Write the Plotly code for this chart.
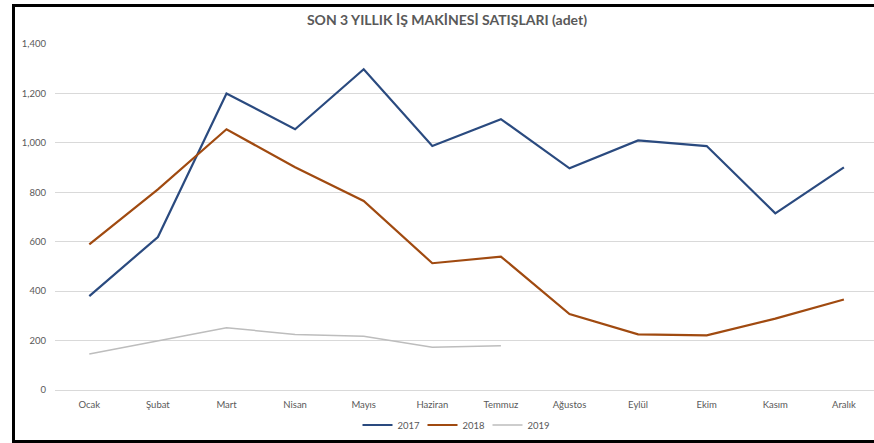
import plotly.graph_objects as go

months = ["Ocak", "Şubat", "Mart", "Nisan", "Mayıs", "Haziran", "Temmuz",
          "Ağustos", "Eylül", "Ekim", "Kasım", "Aralık"]
s2017 = [380, 619, 1200, 1055, 1298, 987, 1096, 897, 1010, 987, 715, 901]
s2018 = [589, 812, 1055, 901, 765, 513, 540, 307, 225, 221, 289, 366]
s2019 = [146, 198, 252, 225, 217, 173, 179]

W, H = 874, 443
L, R, T, B = 55, 0, 44, 53
pw, ph = W - L - R, H - T - B

def px(x):
    return (x - L) / pw

def py(y):
    return (H - B - y) / ph

fig = go.Figure()
fig.add_trace(go.Scatter(x=months, y=s2017, name="2017", mode="lines",
                         line=dict(color="#2A4A7F", width=2.2)))
fig.add_trace(go.Scatter(x=months, y=s2018, name="2018", mode="lines",
                         line=dict(color="#A04A10", width=2.2)))
fig.add_trace(go.Scatter(x=months[:len(s2019)], y=s2019, name="2019", mode="lines",
                         line=dict(color="#BDBDBD", width=1.5)))

font_fam = "Lato, 'Open Sans', sans-serif"
fig.update_layout(
    width=W, height=H,
    margin=dict(l=L, r=R, t=T, b=B),
    paper_bgcolor="white", plot_bgcolor="white",
    title=dict(text="<b>SON 3 YILLIK İŞ MAKİNESİ SATIŞLARI (adet)</b>",
               x=px(447), xref="paper", xanchor="center",
               y=1 - 20 / H, yanchor="middle",
               font=dict(family=font_fam, size=14, color="#595959")),
    showlegend=True,
    legend=dict(orientation="h", x=px(455), xanchor="center",
                y=py(425), yanchor="middle", xref="paper", yref="paper",
                font=dict(family=font_fam, size=9.5, color="#595959"),
                itemwidth=30, tracegroupgap=0,
                entrywidth=20, entrywidthmode="pixels"),
    xaxis=dict(range=[-0.5, -0.5 + pw / 68.6], showgrid=False,
               showline=True, linecolor="#D9D9D9", linewidth=1,
               ticks="", tickfont=dict(family=font_fam, size=9.5, color="#595959"),
               ticklabelstandoff=6, fixedrange=True),
    yaxis=dict(range=[0, 1400], dtick=200, tickformat=",", showgrid=True,
               gridcolor="#D9D9D9", gridwidth=1, zeroline=False, showline=False,
               ticks="", ticklabelstandoff=8,
               tickfont=dict(family=font_fam, size=9.5, color="#595959"),
               fixedrange=True),
    font=dict(family=font_fam),
)

# black border of the chart frame
fig.add_shape(type="line", xref="paper", yref="paper",
              x0=px(13.5), x1=px(13.5), y0=py(441.5), y1=py(5.5),
              line=dict(color="black", width=3), layer="above")
fig.add_shape(type="line", xref="paper", yref="paper",
              x0=px(12), x1=px(880), y0=py(5.5), y1=py(5.5),
              line=dict(color="black", width=3), layer="above")
fig.add_shape(type="line", xref="paper", yref="paper",
              x0=px(12), x1=px(880), y0=py(441.5), y1=py(441.5),
              line=dict(color="black", width=3), layer="above")

fig.write_html("out.html", config={"displayModeBar": False},
               post_script="document.body.style.margin='0';document.body.style.overflow='hidden';")
